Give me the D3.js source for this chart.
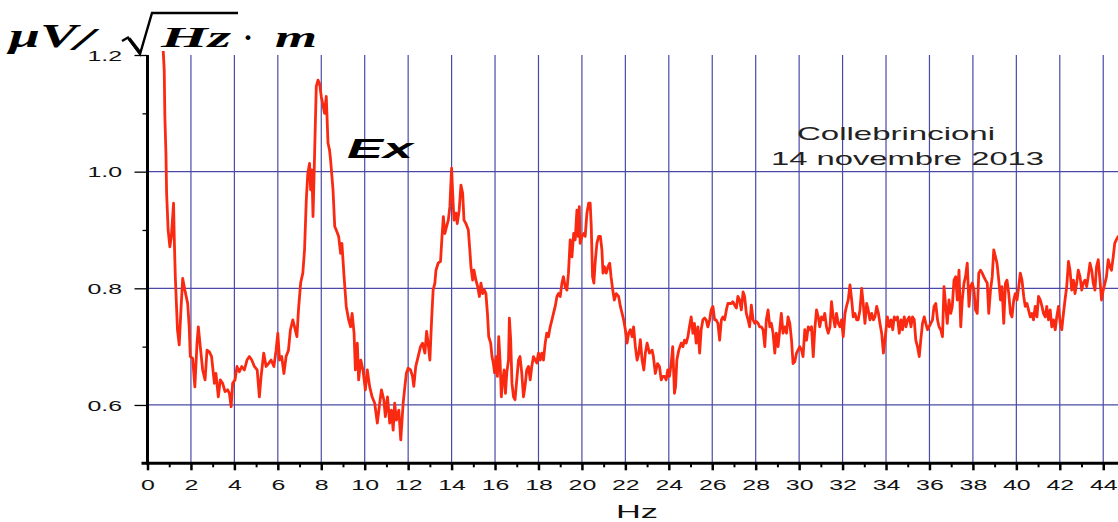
<!DOCTYPE html>
<html>
<head>
<meta charset="utf-8">
<script src="https://cdn.jsdelivr.net/npm/d3@7"></script>
<style>
html,body{margin:0;padding:0;background:#fff;}
svg{display:block;}
</style>
</head>
<body>
<svg id="chart" width="1118" height="522"></svg>
<script>
// ---- data ----
const xTickValues = [0,2,4,6,8,10,12,14,16,18,20,22,24,26,28,30,32,34,36,38,40,42,44];
const xMinorTicks = [1,3,5,7,9,11,13,15,17,19,21,23,25,27,29,31,33,35,37,39,41,43];
const xGridValues = [2,4,6,8,10,12,14,16,18,20,22,24,26,28,30,32,34,36,38,40,42,44];
const yTickValues = [0.6,0.8,1.0,1.2];
const yTickLabels = ["0.6","0.8","1.0","1.2"];
const yMinorTicks = [0.7,0.9,1.1];
const yGridValues = [0.6,0.8,1.0];
const xLabel = "Hz";
const seriesName = "Ex";
const noteLines = ["Collebrincioni","14 novembre 2013"];

const hz = [
0.72,0.77,0.80,0.85,0.88,0.95,1.03,1.10,1.20,1.23,1.28,1.38,1.46,1.54,1.62,1.72,1.85,1.92,1.97,2.08,
2.18,2.28,2.34,2.43,2.54,2.65,2.74,2.85,2.95,3.08,3.15,3.26,3.35,3.46,3.57,3.69,3.77,3.85,3.92,4.03,
4.12,4.23,4.34,4.46,4.58,4.69,4.80,4.92,5.05,5.15,5.23,5.35,5.46,5.57,5.69,5.82,5.92,6.00,6.08,6.18,
6.28,6.38,6.49,6.58,6.69,6.77,6.88,6.95,7.05,7.15,7.23,7.31,7.38,7.46,7.51,7.57,7.62,7.66,7.72,7.77,
7.85,7.92,8.00,8.08,8.15,8.23,8.31,8.38,8.43,8.54,8.62,8.69,8.80,8.89,8.95,9.05,9.15,9.26,9.35,9.42,
9.51,9.57,9.66,9.72,9.82,9.92,10.03,10.12,10.23,10.34,10.46,10.58,10.69,10.77,10.88,10.95,11.05,11.15,11.23,11.31,
11.38,11.46,11.57,11.66,
11.77,11.85,11.92,12.00,12.11,12.20,12.26,12.35,12.46,12.57,12.66,12.77,12.85,12.92,13.00,13.08,13.15,13.23,13.28,13.38,
13.49,13.55,13.62,13.69,13.77,13.85,13.92,14.00,14.05,14.11,14.20,14.26,14.35,14.43,14.51,14.57,14.66,14.77,14.85,14.89,
14.97,15.03,15.12,15.20,15.28,15.35,15.43,15.51,15.58,15.65,15.71,15.80,15.86,15.92,15.98,16.05,16.11,16.17,16.23,16.29,
16.35,16.42,16.48,16.54,16.62,16.66,16.72,16.78,16.85,16.92,17.00,17.08,17.15,17.23,17.31,17.38,17.46,17.54,17.62,17.69,
17.77,17.85,17.92,18.00,18.08,18.15,18.23,18.31,18.38,18.46,18.54,18.62,18.69,18.77,18.85,18.92,19.00,19.08,19.15,19.23,
19.31,19.38,19.46,19.54,19.62,19.69,19.77,19.82,19.88,19.92,20.00,20.08,20.15,20.23,20.31,20.38,20.43,20.49,20.55,20.62,
20.69,20.77,20.85,20.92,20.97,21.03,21.12,21.20,21.28,21.34,21.42,21.49,21.58,21.69,21.77,21.85,21.92,22.00,22.08,22.15,
22.23,22.31,22.38,22.46,22.54,22.62,22.69,22.77,22.85,22.92,23.00,
23.11,23.23,23.29,23.38,23.48,23.57,23.65,23.72,23.80,23.88,23.95,24.03,24.11,24.18,24.26,24.31,24.37,24.46,24.57,24.65,
24.72,24.80,24.88,24.95,25.03,25.11,25.18,25.26,25.34,25.42,25.49,25.57,25.65,25.72,25.80,25.88,25.95,26.03,26.11,26.18,
26.26,26.34,26.42,26.49,26.57,26.65,26.72,26.80,26.88,26.95,27.03,27.11,27.18,27.26,27.34,27.42,27.49,27.57,27.65,27.72,
27.80,27.88,27.95,28.03,28.11,28.18,28.26,28.34,28.42,28.49,28.57,28.65,28.72,28.80,28.88,28.95,29.03,29.11,29.18,29.26,
29.34,29.42,29.49,29.57,29.65,29.72,29.80,29.88,29.95,30.03,30.11,30.18,30.26,30.34,30.42,30.49,30.57,30.65,30.72,30.80,
30.88,30.95,31.03,31.11,31.18,31.26,31.34,31.42,31.49,31.57,31.65,31.72,31.80,31.88,31.95,32.03,32.11,32.18,32.26,32.34,
32.42,32.49,32.57,32.65,32.72,32.80,32.88,32.95,33.03,33.11,33.18,33.26,33.34,33.42,33.49,33.57,33.65,33.72,33.80,33.88,
33.95,
34.06,34.15,34.23,34.31,34.38,34.46,34.53,34.61,34.69,34.76,34.84,34.92,34.99,35.07,35.15,35.22,35.30,35.37,35.45,35.53,
35.60,35.68,35.76,35.83,35.91,35.98,36.06,36.14,36.21,36.29,36.37,36.44,36.52,36.60,36.67,36.75,36.82,36.90,36.98,37.05,
37.13,37.21,37.28,37.36,37.44,37.51,37.59,37.66,37.74,37.82,37.89,37.97,38.05,38.12,38.20,38.27,38.35,38.43,38.50,38.58,
38.66,38.73,38.81,38.89,38.96,39.04,39.11,39.19,39.27,39.34,39.42,39.50,39.57,39.65,39.73,39.80,39.88,39.95,40.03,40.11,
40.18,40.26,40.34,40.41,40.49,40.56,40.64,40.72,40.79,40.87,40.95,41.02,41.10,41.18,41.25,41.33,41.40,41.48,41.56,41.63,
41.71,41.79,41.86,41.94,42.02,42.09,42.17,42.24,42.32,42.40,42.47,42.55,42.63,42.70,42.78,42.85,42.93,43.01,43.08,43.16,
43.24,43.31,43.39,43.47,43.54,43.62,43.69,43.77,43.85,43.92,44.00,44.08,44.15,44.23,44.31,44.38,44.46,44.53,44.60,44.70
];

const ex = [
1.21,1.174,1.094,1.03,0.963,0.90,0.871,0.889,0.946,0.889,0.82,0.729,0.703,0.763,0.817,0.797,0.774,0.734,0.683,0.68,
0.631,0.706,0.734,0.70,0.66,0.643,0.694,0.691,0.683,0.637,0.654,0.614,0.643,0.637,0.623,0.626,0.62,0.597,0.637,0.643,
0.666,0.657,0.666,0.66,0.677,0.683,0.677,0.666,0.66,0.614,0.649,0.689,0.666,0.671,0.677,0.666,0.694,0.723,0.677,0.683,
0.654,0.683,0.694,0.729,0.746,0.734,0.717,0.763,0.809,0.826,0.866,0.951,0.997,1.014,0.969,1.003,0.923,0.98,1.071,1.146,
1.157,1.151,1.129,1.114,1.10,1.129,1.049,1.037,1.02,0.969,0.906,0.90,0.889,0.86,0.877,0.82,0.769,0.746,0.734,0.757,
0.723,0.66,0.706,0.643,0.677,0.66,0.626,0.66,0.631,0.614,0.603,0.569,0.603,0.626,0.609,0.58,0.614,0.569,0.591,0.557,
0.603,0.574,0.591,0.54,
0.603,0.632,0.655,0.663,0.66,0.649,0.632,0.666,0.683,0.70,0.706,0.689,0.726,0.706,0.677,0.746,0.797,0.809,0.831,0.843,
0.846,0.883,0.923,0.894,0.906,0.917,0.94,1.006,0.963,0.917,0.929,0.911,0.934,0.977,0.963,0.917,0.911,0.90,0.86,0.837,
0.814,0.831,0.814,0.803,0.786,0.809,0.791,0.797,0.791,0.757,0.717,0.706,0.683,0.672,0.655,0.683,0.649,0.717,0.677,0.614,
0.643,0.66,0.62,0.655,0.677,0.749,0.712,0.637,0.614,0.609,0.643,0.677,0.683,0.655,0.614,0.632,0.66,0.666,0.643,0.666,
0.683,0.677,0.672,0.689,0.677,0.689,0.677,0.706,0.723,0.717,0.734,0.746,0.757,0.769,0.786,0.791,0.786,0.809,0.82,0.803,
0.797,0.826,0.883,0.854,0.894,0.883,0.934,0.889,0.94,0.877,0.889,0.894,0.889,0.929,0.946,0.946,0.906,0.82,0.809,0.849,
0.877,0.889,0.889,0.866,0.826,0.837,0.826,0.837,0.843,0.82,0.797,0.78,0.791,0.786,0.769,0.757,0.746,0.729,0.706,0.723,
0.729,0.717,0.734,0.70,0.677,0.689,0.712,0.677,0.66,0.689,0.706,
0.689,0.694,0.683,0.654,0.671,0.666,0.643,0.649,0.649,0.643,0.66,0.649,0.671,0.70,0.62,0.631,0.677,0.694,0.706,0.70,
0.711,0.706,0.717,0.734,0.751,0.723,0.74,0.706,0.734,0.689,0.729,0.746,0.749,0.746,0.734,0.746,0.763,0.769,0.746,0.746,
0.74,0.711,0.746,0.751,0.746,0.763,0.774,0.774,0.774,0.777,0.771,0.766,0.786,0.78,0.763,0.794,0.786,0.757,0.746,0.734,
0.771,0.746,0.74,0.743,0.74,0.734,0.734,0.729,0.70,0.746,0.763,0.734,0.74,0.723,0.689,0.723,0.70,0.729,0.757,0.723,
0.734,0.723,0.751,0.74,0.711,0.671,0.674,0.689,0.694,0.70,0.694,0.683,0.729,0.711,0.734,0.729,0.734,0.683,0.729,0.763,
0.751,0.734,0.751,0.746,0.757,0.734,0.723,0.734,0.777,0.751,0.734,0.757,0.74,0.734,0.746,0.717,0.757,0.769,0.78,0.806,
0.78,0.751,0.757,0.746,0.746,0.763,0.80,0.774,0.74,0.774,0.763,0.746,0.757,0.746,0.751,0.769,0.757,0.74,0.723,0.689,
0.711,
0.751,0.734,0.746,0.729,0.751,0.746,0.751,0.723,0.746,0.729,0.751,0.734,0.746,0.751,0.734,0.751,0.746,0.711,0.70,0.683,
0.711,0.74,0.751,0.74,0.729,0.734,0.74,0.746,0.769,0.774,0.746,0.734,0.729,0.717,0.803,0.769,0.74,0.78,0.757,0.769,
0.814,0.82,0.78,0.831,0.734,0.78,0.809,0.82,0.843,0.769,0.803,0.809,0.797,0.763,0.757,0.826,0.831,0.826,0.82,0.814,
0.809,0.757,0.797,0.82,0.866,0.854,0.843,0.814,0.78,0.803,0.74,0.809,0.814,0.791,0.757,0.751,0.78,0.791,0.78,0.803,
0.826,0.814,0.786,0.769,0.774,0.763,0.751,0.757,0.746,0.769,0.751,0.786,0.78,0.769,0.757,0.751,0.769,0.746,0.763,0.734,
0.746,0.729,0.751,0.769,0.74,0.729,0.757,0.78,0.803,0.846,0.831,0.797,0.814,0.791,0.809,0.831,0.82,0.797,0.809,0.814,
0.803,0.82,0.843,0.831,0.809,0.797,0.837,0.849,0.814,0.78,0.797,0.809,0.82,0.849,0.837,0.831,0.854,0.877,0.883,0.89
];

// ---- drawing ----
const svg = d3.select("#chart");
const W = 1118, H = 522;
const x = d3.scaleLinear().domain([0, 44.68]).range([147.5, 1118]);
const y = d3.scaleLinear().domain([0.5, 1.2]).range([463.3, 55]);

const gridColor = "#4a4aa6";
const sans = "'Liberation Sans', Arial, sans-serif";
const serif = "'Liberation Serif', 'Times New Roman', serif";

// grid
svg.append("g").selectAll("line").data(xGridValues).join("line")
  .attr("x1", d => x(d)).attr("x2", d => x(d))
  .attr("y1", y(1.2)).attr("y2", y(0.5))
  .attr("stroke", gridColor).attr("stroke-width", 1.2);
svg.append("g").selectAll("line").data(yGridValues).join("line")
  .attr("x1", x(0)).attr("x2", W)
  .attr("y1", d => y(d)).attr("y2", d => y(d))
  .attr("stroke", gridColor).attr("stroke-width", 1.2);

// curve
svg.append("defs").append("clipPath").attr("id", "clip")
  .append("rect").attr("x", x(0)).attr("y", y(1.2) - 4).attr("width", W - x(0)).attr("height", y(0.5) - y(1.2) + 4);
const pts = hz.map((h, i) => [h, ex[i]]);
svg.append("path")
  .attr("clip-path", "url(#clip)")
  .attr("d", d3.line().x(d => x(d[0])).y(d => y(d[1]))(pts))
  .attr("fill", "none").attr("stroke", "#fa2a12").attr("stroke-width", 2.8)
  .attr("stroke-linejoin", "round");

// x axis
const xAxisG = svg.append("g").attr("transform", `translate(0,${y(0.5)})`)
  .call(d3.axisBottom(x).tickValues(xTickValues).tickSize(7).tickSizeOuter(0).tickPadding(0).tickFormat(d3.format("d")));
xAxisG.select(".domain").attr("stroke", "#000").attr("stroke-width", 3).attr("d", `M${x(0)-6},0H${W}`);
xAxisG.selectAll(".tick line").attr("stroke", "#000").attr("stroke-width", 2.5);
xAxisG.selectAll(".tick text")
  .attr("font-family", sans).attr("font-size", 14.5).attr("fill", "#111")
  .attr("y", 16).attr("dy", "0.71em")
  .attr("transform", "scale(1.72,1)");

const xMinorG = svg.append("g").attr("transform", `translate(0,${y(0.5)})`)
  .call(d3.axisBottom(x).tickValues(xMinorTicks).tickSize(4).tickSizeOuter(0).tickFormat(""));
xMinorG.select(".domain").remove();
xMinorG.selectAll(".tick line").attr("stroke", "#000").attr("stroke-width", 2);

// y axis
const yAxisG = svg.append("g").attr("transform", `translate(${x(0)},0)`)
  .call(d3.axisLeft(y).tickValues(yTickValues).tickSize(13).tickSizeOuter(0)
    .tickFormat((d, i) => yTickLabels[i]));
yAxisG.select(".domain").attr("stroke", "#000").attr("stroke-width", 3).attr("d", `M0,${y(1.2)}V${y(0.5)+1.5}`);
yAxisG.selectAll(".tick line").attr("stroke", "#000").attr("stroke-width", 1.3);
yAxisG.selectAll(".tick text")
  .attr("font-family", sans).attr("font-size", 14.5).attr("fill", "#111")
  .attr("x", -25.5 / 1.72).attr("dy", "0.36em")
  .attr("transform", "scale(1.72,1)");

const yMinorG = svg.append("g").attr("transform", `translate(${x(0)},0)`)
  .call(d3.axisLeft(y).tickValues(yMinorTicks).tickSize(5).tickSizeOuter(0).tickFormat(""));
yMinorG.select(".domain").remove();
yMinorG.selectAll(".tick line").attr("stroke", "#000").attr("stroke-width", 1.3);

// x label
svg.append("text").attr("x", 637).attr("y", 518)
  .attr("font-family", sans).attr("font-size", 18).attr("fill", "#111")
  .attr("text-anchor", "middle")
  .attr("textLength", 42).attr("lengthAdjust", "spacingAndGlyphs")
  .text(xLabel);

// series name
svg.append("text").attr("x", 347).attr("y", 158)
  .attr("font-family", sans).attr("font-size", 28).attr("font-weight", "bold").attr("font-style", "italic")
  .attr("fill", "#000")
  .attr("textLength", 66).attr("lengthAdjust", "spacingAndGlyphs")
  .text(seriesName);

// note
svg.append("text").attr("x", 797).attr("y", 140)
  .attr("font-family", sans).attr("font-size", 18.5).attr("fill", "#222")
  .attr("textLength", 198).attr("lengthAdjust", "spacingAndGlyphs")
  .text(noteLines[0]);
svg.append("text").attr("x", 771).attr("y", 165)
  .attr("font-family", sans).attr("font-size", 18.5).attr("fill", "#222")
  .attr("textLength", 273).attr("lengthAdjust", "spacingAndGlyphs")
  .text(noteLines[1]);

// unit title  μV/√(Hz·m)
const tg = svg.append("g").attr("font-family", serif).attr("font-weight", "bold").attr("font-style", "italic").attr("fill", "#000");
tg.append("text").attr("x", 9).attr("y", 47).attr("font-size", 33)
  .attr("textLength", 68).attr("lengthAdjust", "spacingAndGlyphs").text("μV");
tg.append("text").attr("x", 74).attr("y", 50).attr("font-size", 32)
  .attr("textLength", 20).attr("lengthAdjust", "spacingAndGlyphs").text("/");
svg.append("path")
  .attr("d", "M122,41 L128,37.5 L140,54 L152,13 L238,13")
  .attr("fill", "none").attr("stroke", "#000").attr("stroke-width", 2.4).attr("stroke-linejoin", "miter");
svg.append("path").attr("d", "M129,38.5 L139.5,52").attr("stroke", "#000").attr("stroke-width", 3.5);
tg.append("text").attr("x", 161).attr("y", 47).attr("font-size", 30)
  .attr("textLength", 70).attr("lengthAdjust", "spacingAndGlyphs").text("Hz");
tg.append("text").attr("x", 243).attr("y", 47).attr("font-size", 30).attr("font-style", "normal").text("·");
tg.append("text").attr("x", 275).attr("y", 47).attr("font-size", 30)
  .attr("textLength", 42).attr("lengthAdjust", "spacingAndGlyphs").text("m");
</script>
</body>
</html>
